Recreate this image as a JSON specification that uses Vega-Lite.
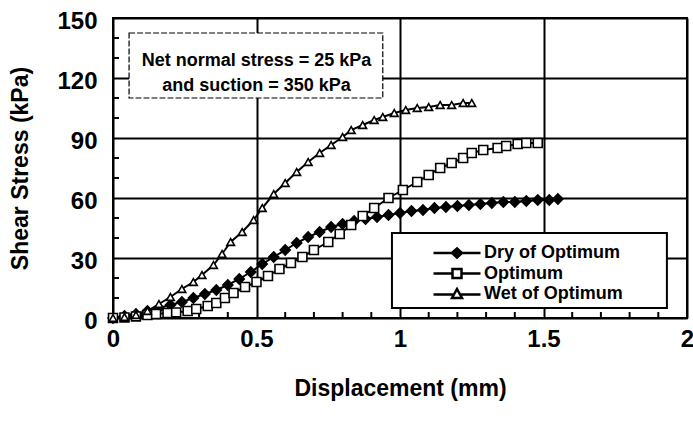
{
  "$schema": "https://vega.github.io/schema/vega-lite/v6.json",
  "width": 574,
  "height": 300,
  "autosize": {"type": "none"},
  "padding": {"left": 113, "top": 18, "right": 6, "bottom": 106},
  "background": "white",
  "config": {
    "view": {"stroke": "black", "strokeWidth": 2},
    "font": "Liberation Sans"
  },
  "resolve": {"scale": {"shape": "independent"}},
  "datasets": {
    "curves": [
      {"series": "Dry of Optimum", "d": 0, "s": 0},
      {"series": "Dry of Optimum", "d": 0.04, "s": 1},
      {"series": "Dry of Optimum", "d": 0.08, "s": 2},
      {"series": "Dry of Optimum", "d": 0.12, "s": 3.5},
      {"series": "Dry of Optimum", "d": 0.16, "s": 5},
      {"series": "Dry of Optimum", "d": 0.2, "s": 6.5},
      {"series": "Dry of Optimum", "d": 0.24, "s": 8},
      {"series": "Dry of Optimum", "d": 0.28, "s": 10},
      {"series": "Dry of Optimum", "d": 0.32, "s": 12},
      {"series": "Dry of Optimum", "d": 0.36, "s": 14},
      {"series": "Dry of Optimum", "d": 0.4, "s": 16.5},
      {"series": "Dry of Optimum", "d": 0.44, "s": 19.5},
      {"series": "Dry of Optimum", "d": 0.48, "s": 23},
      {"series": "Dry of Optimum", "d": 0.52, "s": 27},
      {"series": "Dry of Optimum", "d": 0.56, "s": 30.5},
      {"series": "Dry of Optimum", "d": 0.6, "s": 34},
      {"series": "Dry of Optimum", "d": 0.64, "s": 37.5},
      {"series": "Dry of Optimum", "d": 0.68, "s": 40.5},
      {"series": "Dry of Optimum", "d": 0.72, "s": 43},
      {"series": "Dry of Optimum", "d": 0.76, "s": 45.5},
      {"series": "Dry of Optimum", "d": 0.8, "s": 47},
      {"series": "Dry of Optimum", "d": 0.84, "s": 48.5},
      {"series": "Dry of Optimum", "d": 0.88, "s": 49.5},
      {"series": "Dry of Optimum", "d": 0.92, "s": 50.5},
      {"series": "Dry of Optimum", "d": 0.96, "s": 51.5},
      {"series": "Dry of Optimum", "d": 1.0, "s": 52.5},
      {"series": "Dry of Optimum", "d": 1.04, "s": 53.5},
      {"series": "Dry of Optimum", "d": 1.08, "s": 54},
      {"series": "Dry of Optimum", "d": 1.12, "s": 55},
      {"series": "Dry of Optimum", "d": 1.16, "s": 55.5},
      {"series": "Dry of Optimum", "d": 1.2, "s": 56},
      {"series": "Dry of Optimum", "d": 1.24, "s": 56.5},
      {"series": "Dry of Optimum", "d": 1.28, "s": 57},
      {"series": "Dry of Optimum", "d": 1.32, "s": 57.5},
      {"series": "Dry of Optimum", "d": 1.36, "s": 58},
      {"series": "Dry of Optimum", "d": 1.4, "s": 58},
      {"series": "Dry of Optimum", "d": 1.44, "s": 58.5},
      {"series": "Dry of Optimum", "d": 1.48, "s": 59},
      {"series": "Dry of Optimum", "d": 1.52, "s": 59},
      {"series": "Dry of Optimum", "d": 1.55, "s": 59.5},
      {"series": "Optimum", "d": 0, "s": 0},
      {"series": "Optimum", "d": 0.04, "s": 0.3},
      {"series": "Optimum", "d": 0.08, "s": 0.8},
      {"series": "Optimum", "d": 0.12, "s": 1.5},
      {"series": "Optimum", "d": 0.15, "s": 2},
      {"series": "Optimum", "d": 0.19, "s": 2.5},
      {"series": "Optimum", "d": 0.22, "s": 2.8},
      {"series": "Optimum", "d": 0.26, "s": 3.5},
      {"series": "Optimum", "d": 0.29, "s": 4.5},
      {"series": "Optimum", "d": 0.33, "s": 6},
      {"series": "Optimum", "d": 0.36, "s": 7.5},
      {"series": "Optimum", "d": 0.39, "s": 10},
      {"series": "Optimum", "d": 0.42, "s": 12.5},
      {"series": "Optimum", "d": 0.46, "s": 15.5},
      {"series": "Optimum", "d": 0.5, "s": 18},
      {"series": "Optimum", "d": 0.54, "s": 21},
      {"series": "Optimum", "d": 0.58, "s": 24.5},
      {"series": "Optimum", "d": 0.62, "s": 27.5},
      {"series": "Optimum", "d": 0.66, "s": 30.5},
      {"series": "Optimum", "d": 0.7, "s": 34},
      {"series": "Optimum", "d": 0.75, "s": 38},
      {"series": "Optimum", "d": 0.79, "s": 42},
      {"series": "Optimum", "d": 0.83, "s": 46.5},
      {"series": "Optimum", "d": 0.87, "s": 51},
      {"series": "Optimum", "d": 0.91, "s": 55},
      {"series": "Optimum", "d": 0.96, "s": 60},
      {"series": "Optimum", "d": 1.01, "s": 64},
      {"series": "Optimum", "d": 1.06, "s": 68},
      {"series": "Optimum", "d": 1.1, "s": 71.5},
      {"series": "Optimum", "d": 1.14, "s": 75},
      {"series": "Optimum", "d": 1.18, "s": 77.5},
      {"series": "Optimum", "d": 1.22, "s": 80},
      {"series": "Optimum", "d": 1.25, "s": 82.5},
      {"series": "Optimum", "d": 1.29, "s": 84},
      {"series": "Optimum", "d": 1.34, "s": 85},
      {"series": "Optimum", "d": 1.37, "s": 86},
      {"series": "Optimum", "d": 1.41, "s": 87},
      {"series": "Optimum", "d": 1.44, "s": 87.5},
      {"series": "Optimum", "d": 1.48, "s": 87.5},
      {"series": "Wet of Optimum", "d": 0, "s": 0},
      {"series": "Wet of Optimum", "d": 0.04, "s": 0.5},
      {"series": "Wet of Optimum", "d": 0.08, "s": 1.5},
      {"series": "Wet of Optimum", "d": 0.12, "s": 3.5},
      {"series": "Wet of Optimum", "d": 0.16, "s": 7},
      {"series": "Wet of Optimum", "d": 0.2, "s": 10.5},
      {"series": "Wet of Optimum", "d": 0.24, "s": 14.5},
      {"series": "Wet of Optimum", "d": 0.28, "s": 18},
      {"series": "Wet of Optimum", "d": 0.31, "s": 21.5},
      {"series": "Wet of Optimum", "d": 0.35, "s": 26.5},
      {"series": "Wet of Optimum", "d": 0.38, "s": 32},
      {"series": "Wet of Optimum", "d": 0.41, "s": 38},
      {"series": "Wet of Optimum", "d": 0.45, "s": 43},
      {"series": "Wet of Optimum", "d": 0.49, "s": 49},
      {"series": "Wet of Optimum", "d": 0.52, "s": 55},
      {"series": "Wet of Optimum", "d": 0.56, "s": 62},
      {"series": "Wet of Optimum", "d": 0.6, "s": 67.5},
      {"series": "Wet of Optimum", "d": 0.64, "s": 73},
      {"series": "Wet of Optimum", "d": 0.68, "s": 78},
      {"series": "Wet of Optimum", "d": 0.72, "s": 82.5},
      {"series": "Wet of Optimum", "d": 0.76, "s": 86.5},
      {"series": "Wet of Optimum", "d": 0.8, "s": 90.5},
      {"series": "Wet of Optimum", "d": 0.83, "s": 94},
      {"series": "Wet of Optimum", "d": 0.87, "s": 96.5},
      {"series": "Wet of Optimum", "d": 0.91, "s": 99},
      {"series": "Wet of Optimum", "d": 0.94, "s": 100.5},
      {"series": "Wet of Optimum", "d": 0.98, "s": 102.5},
      {"series": "Wet of Optimum", "d": 1.02, "s": 104},
      {"series": "Wet of Optimum", "d": 1.06, "s": 105},
      {"series": "Wet of Optimum", "d": 1.1, "s": 105.5},
      {"series": "Wet of Optimum", "d": 1.14, "s": 106.5},
      {"series": "Wet of Optimum", "d": 1.18, "s": 106.5},
      {"series": "Wet of Optimum", "d": 1.22, "s": 107.5},
      {"series": "Wet of Optimum", "d": 1.25, "s": 107.5}
    ],
    "note": [{"text": ["Net normal stress = 25 kPa", "and suction = 350 kPa"]}],
    "xminor": [{"t": 0.1}, {"t": 0.2}, {"t": 0.3}, {"t": 0.4}, {"t": 0.6}, {"t": 0.7}, {"t": 0.8}, {"t": 0.9}, {"t": 1.1}, {"t": 1.2}, {"t": 1.3}, {"t": 1.4}, {"t": 1.6}, {"t": 1.7}, {"t": 1.8}, {"t": 1.9}],
    "yminor": [{"t": 10}, {"t": 20}, {"t": 40}, {"t": 50}, {"t": 70}, {"t": 80}, {"t": 100}, {"t": 110}, {"t": 130}, {"t": 140}]
  },
  "layer": [
    {
      "data": {"name": "curves"},
      "mark": {"type": "line", "color": "black", "strokeWidth": 2},
      "encoding": {
        "x": {
          "field": "d", "type": "quantitative",
          "scale": {"domain": [0, 2], "nice": false, "zero": false},
          "axis": {"title": "Displacement (mm)", "values": [0, 0.5, 1, 1.5, 2], "format": "~g", "labelOverlap": false, "labelFlush": false, "labelFont": "Liberation Sans", "labelFontWeight": "bold", "labelFontSize": 24, "labelColor": "black", "labelPadding": 9, "domain": false, "ticks": false, "grid": true, "gridColor": "black", "gridWidth": 2, "titleFont": "Liberation Sans", "titleFontWeight": "bold", "titleFontSize": 23, "titleColor": "black", "titlePadding": 26}
        },
        "y": {
          "field": "s", "type": "quantitative",
          "scale": {"domain": [0, 150], "nice": false},
          "axis": {"title": "Shear Stress (kPa)", "values": [0, 30, 60, 90, 120, 150], "labelOverlap": false, "labelFlush": false, "labelFont": "Liberation Sans", "labelFontWeight": "bold", "labelFontSize": 24, "labelColor": "black", "labelPadding": 16, "labelOffset": 3, "domain": false, "ticks": false, "grid": true, "gridColor": "black", "gridWidth": 2, "titleFont": "Liberation Sans", "titleFontWeight": "bold", "titleFontSize": 23, "titleColor": "black", "titleX": -93, "titleBaseline": "middle"}
        },
        "detail": {"field": "series"}
      }
    },
    {
      "data": {"name": "note"},
      "mark": {"type": "rect", "fill": "white", "stroke": "black", "strokeWidth": 1.2, "strokeDash": [6, 2]},
      "encoding": {
        "x": {"datum": 0.056, "type": "quantitative", "axis": {"title": "Displacement (mm)", "values": [0, 0.5, 1, 1.5, 2], "format": "~g", "labelOverlap": false, "labelFlush": false, "labelFont": "Liberation Sans", "labelFontWeight": "bold", "labelFontSize": 24, "labelColor": "black", "labelPadding": 9, "domain": false, "ticks": false, "grid": true, "gridColor": "black", "gridWidth": 2, "titleFont": "Liberation Sans", "titleFontWeight": "bold", "titleFontSize": 23, "titleColor": "black", "titlePadding": 26}},
        "x2": {"datum": 0.94},
        "y": {"datum": 142.5, "type": "quantitative", "axis": {"title": "Shear Stress (kPa)", "values": [0, 30, 60, 90, 120, 150], "labelOverlap": false, "labelFlush": false, "labelFont": "Liberation Sans", "labelFontWeight": "bold", "labelFontSize": 24, "labelColor": "black", "labelPadding": 16, "labelOffset": 3, "domain": false, "ticks": false, "grid": true, "gridColor": "black", "gridWidth": 2, "titleFont": "Liberation Sans", "titleFontWeight": "bold", "titleFontSize": 23, "titleColor": "black", "titleX": -93, "titleBaseline": "middle"}},
        "y2": {"datum": 110}
      }
    },
    {
      "data": {"name": "note"},
      "mark": {"type": "text", "font": "Liberation Sans", "fontWeight": "bold", "fontSize": 18, "lineHeight": 25, "align": "center", "baseline": "middle", "color": "black"},
      "encoding": {
        "x": {"datum": 0.5, "type": "quantitative", "axis": {"title": "Displacement (mm)", "values": [0, 0.5, 1, 1.5, 2], "format": "~g", "labelOverlap": false, "labelFlush": false, "labelFont": "Liberation Sans", "labelFontWeight": "bold", "labelFontSize": 24, "labelColor": "black", "labelPadding": 9, "domain": false, "ticks": false, "grid": true, "gridColor": "black", "gridWidth": 2, "titleFont": "Liberation Sans", "titleFontWeight": "bold", "titleFontSize": 23, "titleColor": "black", "titlePadding": 26}},
        "y": {"datum": 128.5, "type": "quantitative", "axis": {"title": "Shear Stress (kPa)", "values": [0, 30, 60, 90, 120, 150], "labelOverlap": false, "labelFlush": false, "labelFont": "Liberation Sans", "labelFontWeight": "bold", "labelFontSize": 24, "labelColor": "black", "labelPadding": 16, "labelOffset": 3, "domain": false, "ticks": false, "grid": true, "gridColor": "black", "gridWidth": 2, "titleFont": "Liberation Sans", "titleFontWeight": "bold", "titleFontSize": 23, "titleColor": "black", "titleX": -93, "titleBaseline": "middle"}},
        "text": {"field": "text"}
      }
    },
    {
      "data": {"name": "note"},
      "mark": {"type": "rect", "fill": "white", "stroke": "black", "strokeWidth": 2},
      "encoding": {
        "x": {"datum": 0.972, "type": "quantitative", "axis": {"title": "Displacement (mm)", "values": [0, 0.5, 1, 1.5, 2], "format": "~g", "labelOverlap": false, "labelFlush": false, "labelFont": "Liberation Sans", "labelFontWeight": "bold", "labelFontSize": 24, "labelColor": "black", "labelPadding": 9, "domain": false, "ticks": false, "grid": true, "gridColor": "black", "gridWidth": 2, "titleFont": "Liberation Sans", "titleFontWeight": "bold", "titleFontSize": 23, "titleColor": "black", "titlePadding": 26}},
        "x2": {"datum": 1.93},
        "y": {"datum": 42.5, "type": "quantitative", "axis": {"title": "Shear Stress (kPa)", "values": [0, 30, 60, 90, 120, 150], "labelOverlap": false, "labelFlush": false, "labelFont": "Liberation Sans", "labelFontWeight": "bold", "labelFontSize": 24, "labelColor": "black", "labelPadding": 16, "labelOffset": 3, "domain": false, "ticks": false, "grid": true, "gridColor": "black", "gridWidth": 2, "titleFont": "Liberation Sans", "titleFontWeight": "bold", "titleFontSize": 23, "titleColor": "black", "titleX": -93, "titleBaseline": "middle"}},
        "y2": {"datum": 5}
      }
    },
    {
      "data": {"name": "xminor"},
      "mark": {"type": "tick", "orient": "vertical", "color": "black", "opacity": 1, "thickness": 2, "size": 6, "yOffset": -3},
      "encoding": {
        "x": {"field": "t", "type": "quantitative", "axis": {"title": "Displacement (mm)", "values": [0, 0.5, 1, 1.5, 2], "format": "~g", "labelOverlap": false, "labelFlush": false, "labelFont": "Liberation Sans", "labelFontWeight": "bold", "labelFontSize": 24, "labelColor": "black", "labelPadding": 9, "domain": false, "ticks": false, "grid": true, "gridColor": "black", "gridWidth": 2, "titleFont": "Liberation Sans", "titleFontWeight": "bold", "titleFontSize": 23, "titleColor": "black", "titlePadding": 26}},
        "y": {"datum": 0, "type": "quantitative", "axis": {"title": "Shear Stress (kPa)", "values": [0, 30, 60, 90, 120, 150], "labelOverlap": false, "labelFlush": false, "labelFont": "Liberation Sans", "labelFontWeight": "bold", "labelFontSize": 24, "labelColor": "black", "labelPadding": 16, "labelOffset": 3, "domain": false, "ticks": false, "grid": true, "gridColor": "black", "gridWidth": 2, "titleFont": "Liberation Sans", "titleFontWeight": "bold", "titleFontSize": 23, "titleColor": "black", "titleX": -93, "titleBaseline": "middle"}}
      }
    },
    {
      "data": {"name": "yminor"},
      "mark": {"type": "tick", "orient": "horizontal", "color": "black", "opacity": 1, "thickness": 2, "size": 6, "xOffset": 3},
      "encoding": {
        "x": {"datum": 0, "type": "quantitative", "axis": {"title": "Displacement (mm)", "values": [0, 0.5, 1, 1.5, 2], "format": "~g", "labelOverlap": false, "labelFlush": false, "labelFont": "Liberation Sans", "labelFontWeight": "bold", "labelFontSize": 24, "labelColor": "black", "labelPadding": 9, "domain": false, "ticks": false, "grid": true, "gridColor": "black", "gridWidth": 2, "titleFont": "Liberation Sans", "titleFontWeight": "bold", "titleFontSize": 23, "titleColor": "black", "titlePadding": 26}},
        "y": {"field": "t", "type": "quantitative", "axis": {"title": "Shear Stress (kPa)", "values": [0, 30, 60, 90, 120, 150], "labelOverlap": false, "labelFlush": false, "labelFont": "Liberation Sans", "labelFontWeight": "bold", "labelFontSize": 24, "labelColor": "black", "labelPadding": 16, "labelOffset": 3, "domain": false, "ticks": false, "grid": true, "gridColor": "black", "gridWidth": 2, "titleFont": "Liberation Sans", "titleFontWeight": "bold", "titleFontSize": 23, "titleColor": "black", "titleX": -93, "titleBaseline": "middle"}}
      }
    },
    {
      "data": {"name": "curves"},
      "mark": {"type": "point", "filled": true, "stroke": "black", "strokeWidth": 1.6, "opacity": 1},
      "encoding": {
        "x": {"field": "d", "type": "quantitative", "axis": {"title": "Displacement (mm)", "values": [0, 0.5, 1, 1.5, 2], "format": "~g", "labelOverlap": false, "labelFlush": false, "labelFont": "Liberation Sans", "labelFontWeight": "bold", "labelFontSize": 24, "labelColor": "black", "labelPadding": 9, "domain": false, "ticks": false, "grid": true, "gridColor": "black", "gridWidth": 2, "titleFont": "Liberation Sans", "titleFontWeight": "bold", "titleFontSize": 23, "titleColor": "black", "titlePadding": 26}},
        "y": {"field": "s", "type": "quantitative", "axis": {"title": "Shear Stress (kPa)", "values": [0, 30, 60, 90, 120, 150], "labelOverlap": false, "labelFlush": false, "labelFont": "Liberation Sans", "labelFontWeight": "bold", "labelFontSize": 24, "labelColor": "black", "labelPadding": 16, "labelOffset": 3, "domain": false, "ticks": false, "grid": true, "gridColor": "black", "gridWidth": 2, "titleFont": "Liberation Sans", "titleFontWeight": "bold", "titleFontSize": 23, "titleColor": "black", "titleX": -93, "titleBaseline": "middle"}},
        "shape": {
          "field": "series", "type": "nominal",
          "scale": {"domain": ["Dry of Optimum", "Optimum", "Wet of Optimum"], "range": ["diamond", "square", "triangle-up"]},
          "legend": null
        },
        "fill": {
          "field": "series", "type": "nominal",
          "scale": {"domain": ["Dry of Optimum", "Optimum", "Wet of Optimum"], "range": ["black", "white", "white"]},
          "legend": null
        },
        "size": {
          "field": "series", "type": "nominal",
          "scale": {"domain": ["Dry of Optimum", "Optimum", "Wet of Optimum"], "range": [100, 60, 60]},
          "legend": null
        }
      }
    },
    {
      "data": {"name": "curves"},
      "mark": {"type": "point", "filled": false, "stroke": "black", "strokeWidth": 2.5, "size": 100, "opacity": 0},
      "encoding": {
        "x": {"field": "d", "type": "quantitative", "axis": {"title": "Displacement (mm)", "values": [0, 0.5, 1, 1.5, 2], "format": "~g", "labelOverlap": false, "labelFlush": false, "labelFont": "Liberation Sans", "labelFontWeight": "bold", "labelFontSize": 24, "labelColor": "black", "labelPadding": 9, "domain": false, "ticks": false, "grid": true, "gridColor": "black", "gridWidth": 2, "titleFont": "Liberation Sans", "titleFontWeight": "bold", "titleFontSize": 23, "titleColor": "black", "titlePadding": 26}},
        "y": {"field": "s", "type": "quantitative", "axis": {"title": "Shear Stress (kPa)", "values": [0, 30, 60, 90, 120, 150], "labelOverlap": false, "labelFlush": false, "labelFont": "Liberation Sans", "labelFontWeight": "bold", "labelFontSize": 24, "labelColor": "black", "labelPadding": 16, "labelOffset": 3, "domain": false, "ticks": false, "grid": true, "gridColor": "black", "gridWidth": 2, "titleFont": "Liberation Sans", "titleFontWeight": "bold", "titleFontSize": 23, "titleColor": "black", "titleX": -93, "titleBaseline": "middle"}},
        "shape": {
          "field": "series", "type": "nominal",
          "scale": {"domain": ["Dry of Optimum", "Optimum", "Wet of Optimum"], "range": ["M-4.7,0L-1,0M1,0L4.7,0M-1,0L0,-0.9L1,0L0,0.9ZM-0.6,0L0,-0.54L0.6,0L0,0.54ZM-0.25,0L0,-0.22L0.25,0L0,0.22Z", "M-4.7,0L-0.9,0M0.9,0L4.7,0M-0.9,-0.9L0.9,-0.9L0.9,0.9L-0.9,0.9Z", "M-4.7,0.1L-0.6,0.1M0.6,0.1L4.7,0.1M0,-1L1,0.8L-1,0.8Z"]},
          "legend": {
            "title": null,
            "orient": "none",
            "legendX": 335,
            "legendY": 226,
            "padding": 0,
            "symbolSize": 100,
            "symbolStrokeWidth": 2.5,
            "symbolStrokeColor": "black",
            "symbolOpacity": 1,
            "labelOffset": 18,
            "rowPadding": 0.5,
            "labelFont": "Liberation Sans", "labelFontWeight": "bold", "labelFontSize": 18, "labelColor": "black",
            "labelBaseline": "middle",
            "encode": {
              "symbols": {
                "stroke": {"value": "black"},
                "strokeWidth": {"value": 2.5},
                "opacity": {"value": 1}
              }
            }
          }
        }
      }
    }
  ]
}
